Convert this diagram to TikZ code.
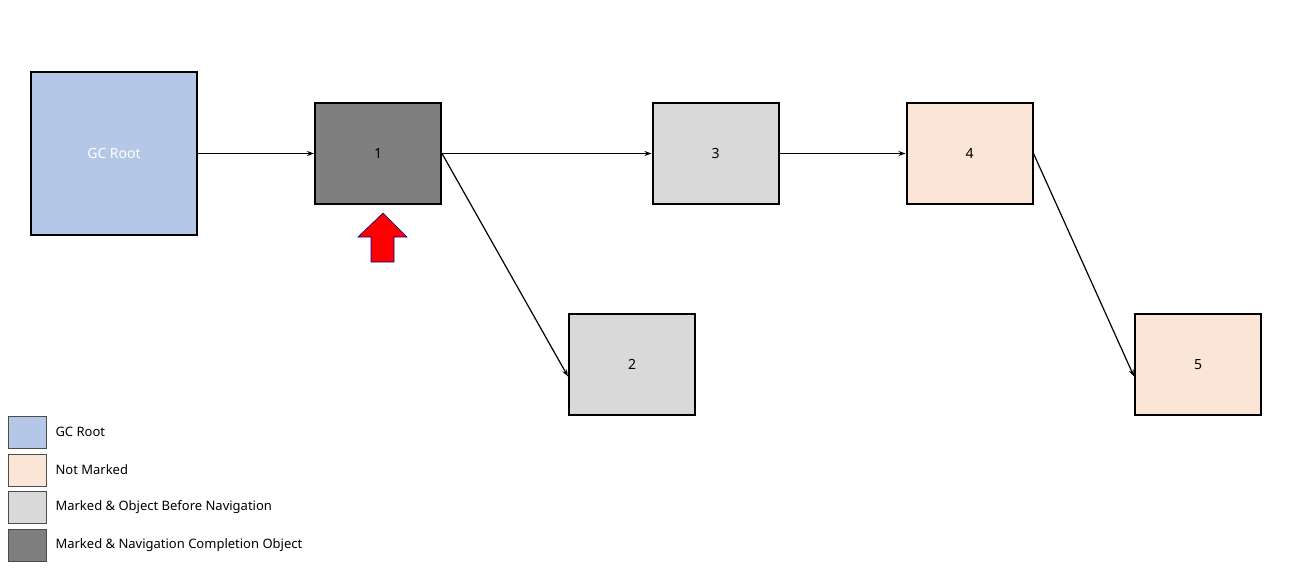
\documentclass[tikz,border=0pt]{standalone}
\usepackage{fontspec}
\setmainfont{Noto Sans}
\usetikzlibrary{arrows.meta}
\begin{document}
\begin{tikzpicture}[x=1pt,y=-1pt,
  box/.style={draw=black,line width=2pt,minimum width=126pt,minimum height=101pt,inner sep=0pt,font=\fontsize{14}{16}\selectfont\bfseries},
  leg/.style={draw=black!70,line width=0.8pt,minimum width=38pt,minimum height=32pt,inner sep=0pt},
  legt/.style={anchor=west,font=\fontsize{13}{15}\selectfont\bfseries},
  conn/.style={line width=1.2pt,-{Stealth[length=7pt,width=5pt]}}]
\definecolor{gcblue}{HTML}{B4C7E7}
\definecolor{peach}{HTML}{FBE5D6}
\definecolor{lgray}{HTML}{D9D9D9}
\definecolor{dgray}{HTML}{7F7F7F}
\useasboundingbox (0,0) rectangle (1314,570);
\node[box,fill=gcblue,text=white,minimum width=166pt,minimum height=163pt] (gc) at (114,153.5) {GC Root};
\node[box,fill=dgray] (n1) at (378,153.5) {1};
\node[box,fill=lgray] (n3) at (715.5,153.5) {3};
\node[box,fill=peach] (n4) at (969.5,153.5) {4};
\node[box,fill=lgray] (n2) at (632,364.5) {2};
\node[box,fill=peach] (n5) at (1198,364.5) {5};
\draw[conn] (gc.east) -- (n1.west);
\draw[conn] (n1.east) -- (n3.west);
\draw[conn] (n1.east) -- ([yshift=-12pt]n2.west);
\draw[conn] (n3.east) -- (n4.west);
\draw[conn] (n4.east) -- ([yshift=-12pt]n5.west);
\draw[fill=red,draw=blue!60!black,line width=0.6pt] (383,213) -- (407,237) -- (394,237) -- (394,262) -- (371,262) -- (371,237) -- (358,237) -- cycle;
\node[leg,fill=gcblue] (l1) at (27,432) {};
\node[leg,fill=peach] (l2) at (27,470) {};
\node[leg,fill=lgray] (l3) at (27,507) {};
\node[leg,fill=dgray] (l4) at (27,545) {};
\node[legt] (t1) at (52,432) {GC Root};
\node[legt] (t2) at (52,470) {Not Marked};
\node[legt] (t3) at (52,507) {Marked \& Object Before Navigation};
\node[legt] (t4) at (52,545) {Marked \& Navigation Completion Object};
\end{tikzpicture}
\end{document}
